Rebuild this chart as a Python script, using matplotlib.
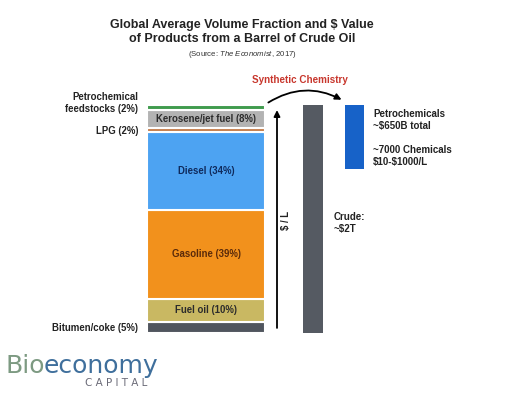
import matplotlib.pyplot as plt
from matplotlib.patches import FancyArrowPatch

plt.rcParams['font.family'] = ['Liberation Sans', 'DejaVu Sans']
plt.rcParams['mathtext.fontset'] = 'custom'
plt.rcParams['mathtext.it'] = 'Liberation Sans:italic'
plt.rcParams['mathtext.rm'] = 'Liberation Sans'

# barrel products, listed bottom to top
products = ['Bitumen/coke', 'Fuel oil', 'Gasoline', 'Diesel', 'LPG', 'Kerosene/jet fuel', 'Petrochemical\nfeedstocks']
shares = [5, 10, 39, 34, 2, 8, 2]
colors = ['#50555e', '#c9b862', '#f2911c', '#4da3f2', '#c57d4b', '#b3b3b3', '#3f9b4d']
text_colors = ['#222222', '#2b2b2b', '#5a2a0a', '#0f2a5c', '#222222', '#2b2b2b', '#222222']
inside = [False, True, True, True, False, True, False]

# value bars (height in % of the barrel column)
crude_height = 100
petro_height = 28

W, H = 526, 393
fig = plt.figure(figsize=(W / 100, H / 100), dpi=100)


def fx(x):
    return x / W


def fy(y):
    return 1 - y / H


# axes spans the bar area: y=333 px (0%) to y=105 px (100%)
ax = fig.add_axes([0, fy(333), 1, (333 - 105) / H])
ax.set_xlim(0, W)
ax.set_ylim(0, 100)
ax.axis('off')

bottom = 0
for name, s, c, tc, ins in zip(products, shares, colors, text_colors, inside):
    ax.bar(206, s, width=118, bottom=bottom, color=c, edgecolor='white', linewidth=1.5)
    label = f'{name} ({s}%)'
    if ins:
        ax.text(206, bottom + s / 2, label, ha='center', va='center', fontsize=6.9,
                fontweight='bold', color=tc)
    bottom += s

# outside labels
fig.text(fx(138), fy(103), 'Petrochemical\nfeedstocks (2%)', ha='right', va='center',
         fontsize=6.9, fontweight='bold', color='#222222', linespacing=1.2)
fig.text(fx(138), fy(131), 'LPG (2%)', ha='right', va='center', fontsize=6.9,
         fontweight='bold', color='#222222')
fig.text(fx(138), fy(328), 'Bitumen/coke (5%)', ha='right', va='center', fontsize=6.9,
         fontweight='bold', color='#222222')

# crude and petrochemicals bars
ax.bar(313, crude_height, width=20, color='#555a62')
ax.bar(354.5, petro_height, width=19, bottom=100 - petro_height, color='#1762c8')

# $/L arrow
ax.annotate('', xy=(277, 99), xytext=(277, 1),
            arrowprops=dict(arrowstyle='-|>', color='black', lw=1.3, mutation_scale=9))
fig.text(fx(286), fy(220), '$ / L', rotation=90, ha='center', va='center',
         fontsize=6.9, fontweight='bold', color='#222222')

# synthetic chemistry arc
arc = FancyArrowPatch((fx(266), fy(104)), (fx(344), fy(101)), transform=fig.transFigure,
                      connectionstyle='arc3,rad=-0.3', arrowstyle='-|>', mutation_scale=9,
                      color='black', lw=1.3)
fig.add_artist(arc)
fig.text(fx(300), fy(80), 'Synthetic Chemistry', ha='center', va='center', fontsize=7.1,
         fontweight='bold', color='#c8372d')

# right texts
fig.text(fx(373), fy(120), 'Petrochemicals\n~$650B total', ha='left', va='center',
         fontsize=7, fontweight='bold', color='#222222', linespacing=1.3)
fig.text(fx(373), fy(156), '~7000 Chemicals\n\\$10-\\$1000/L', ha='left', va='center',
         fontsize=7, fontweight='bold', color='#222222', linespacing=1.3)
fig.text(fx(334), fy(223), 'Crude:\n~$2T', ha='left', va='center',
         fontsize=7, fontweight='bold', color='#222222', linespacing=1.3)

# title
fig.text(fx(242), fy(32), 'Global Average Volume Fraction and $ Value\nof Products from a Barrel of Crude Oil',
         ha='center', va='center', fontsize=9, fontweight='bold', color='#222222',
         linespacing=1.15)
fig.text(fx(242), fy(55), '(Source: $\\it{The\\ Economist}$, 2017)', ha='center', va='center',
         fontsize=5.6, color='#333333')

# logo
fig.text(fx(6), fy(373), 'Bio', ha='left', va='baseline', fontsize=18, color='#7d9a82',
         family='DejaVu Sans')
fig.text(fx(44), fy(373), 'economy', ha='left', va='baseline', fontsize=18, color='#3f6f9c',
         family='DejaVu Sans')
fig.text(fx(116), fy(383), 'C A P I T A L', ha='center', va='center', fontsize=7.5,
         color='#6b6b78', family='DejaVu Sans')

fig.savefig('out.png', dpi=100)
